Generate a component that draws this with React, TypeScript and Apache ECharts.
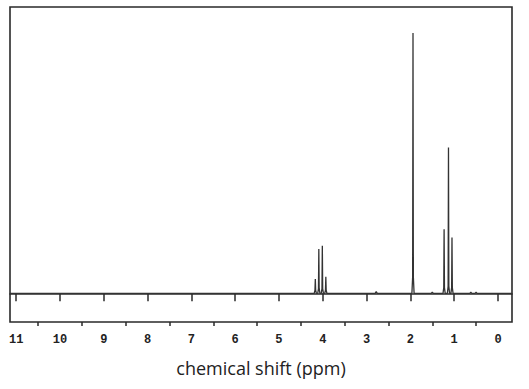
import React, { useEffect, useRef } from "react";
import * as echarts from "echarts";

// Peak positions (ppm) and heights (relative intensity, tallest = 100)
const peakShift = [4.17, 4.09, 4.01, 3.93, 2.78, 1.94, 1.5, 1.23, 1.13, 1.05, 0.62, 0.5];
const peakHeight = [5.5, 17.0, 18.3, 6.4, 0.7, 100, 0.5, 24.6, 56.0, 21.5, 0.4, 0.4];
const peakFoot = [1.2, 1.8, 1.8, 1.2, 0, 6.4, 0, 2.2, 2.8, 2.2, 0, 0];

const axisMinPpm = -0.32;
const axisMaxPpm = 11.14;
const majorTicks = [0, 1, 2, 3, 4, 5, 6, 7, 8, 9, 10, 11];
const minorTicks = [0.5, 1.5, 2.5, 3.5, 4.5, 5.5, 6.5, 7.5, 8.5, 9.5, 10.5];

function buildSpectrum(): number[][] {
  const pts: number[][] = [[axisMinPpm, 0]];
  const order = peakShift.map((_, i) => i).sort((a, b) => peakShift[a] - peakShift[b]);
  for (const i of order) {
    const s = peakShift[i];
    const h = peakHeight[i];
    const f = peakFoot[i];
    pts.push([s - 0.025, 0]);
    if (f > 0) pts.push([s - 0.008, f]);
    pts.push([s, h]);
    if (f > 0) pts.push([s + 0.008, f]);
    pts.push([s + 0.025, 0]);
  }
  pts.push([axisMaxPpm, 0]);
  return pts;
}

export default function App() {
  const ref = useRef<HTMLDivElement>(null);
  useEffect(() => {
    if (!ref.current) return;
    const chart = echarts.init(ref.current, undefined, { renderer: "svg" });
    const labelFont = {
      fontFamily: "Liberation Mono",
      fontSize: 12,
      fontWeight: "bold" as const,
      color: "#222",
    };
    chart.setOption({
      animation: false,
      backgroundColor: "#ffffff",
      grid: {
        left: 10,
        top: 7,
        right: 17,
        bottom: 67,
        show: true,
        borderColor: "#2a2a2a",
        borderWidth: 1.6,
        backgroundColor: "transparent",
      },
      xAxis: [
        {
          type: "value",
          inverse: true,
          min: axisMinPpm,
          max: axisMaxPpm,
          position: "bottom",
          name: "chemical shift (ppm)",
          nameLocation: "middle",
          nameGap: 37,
          nameTextStyle: {
            fontFamily: "Open Sans",
            fontSize: 18,
            color: "#222",
          },
          axisLine: { show: true, lineStyle: { color: "#2a2a2a", width: 1.6 } },
          axisTick: {
            show: true,
            inside: false,
            length: 8,
            customValues: majorTicks,
            lineStyle: { color: "#2a2a2a", width: 1.5 },
          },
          axisLabel: {
            show: true,
            margin: 12,
            customValues: majorTicks,
            formatter: (v: number) => String(v),
            ...labelFont,
          },
          splitLine: { show: false },
        },
        {
          type: "value",
          inverse: true,
          min: axisMinPpm,
          max: axisMaxPpm,
          position: "bottom",
          axisLine: { show: false },
          axisTick: {
            show: true,
            inside: false,
            length: 4,
            customValues: minorTicks,
            lineStyle: { color: "#2a2a2a", width: 1.5 },
          },
          axisLabel: { show: false },
          splitLine: { show: false },
        },
      ],
      yAxis: {
        type: "value",
        min: -11,
        max: 110,
        show: false,
        splitLine: { show: false },
      },
      series: [
        {
          type: "line",
          xAxisIndex: 0,
          data: buildSpectrum(),
          showSymbol: false,
          symbol: "none",
          lineStyle: { color: "#333", width: 1.3 },
          silent: true,
        },
      ],
    });
    return () => chart.dispose();
  }, []);
  return (
    <div
      ref={ref}
      style={{ position: "absolute", left: 0, top: 0, width: 529, height: 389 }}
    />
  );
}
